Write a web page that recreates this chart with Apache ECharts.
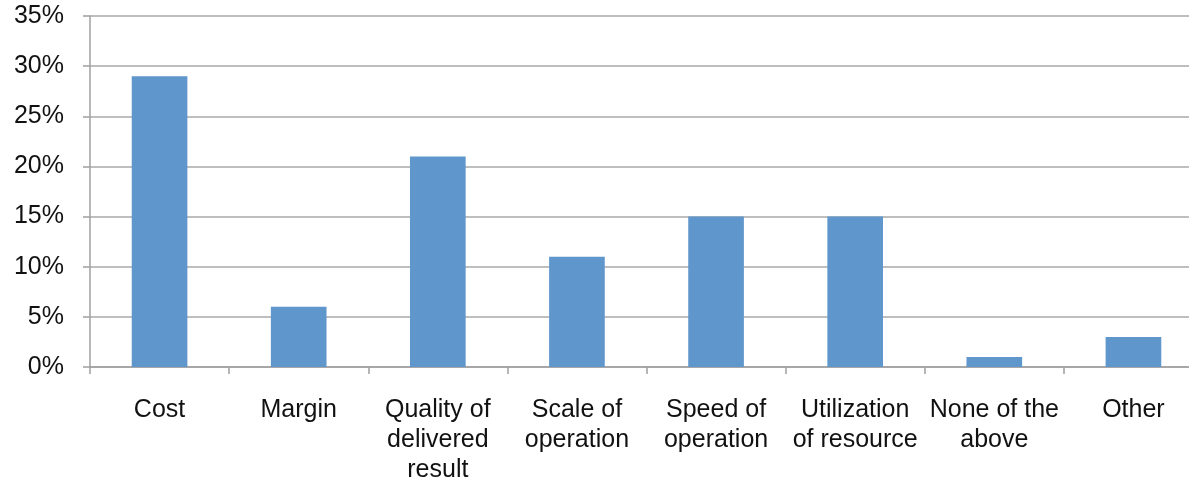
<!DOCTYPE html>
<html><head><meta charset="utf-8">
<script src="https://cdn.jsdelivr.net/npm/echarts@6/dist/echarts.min.js"></script>
<style>html,body{margin:0;padding:0;background:#fff}#c{width:1189px;height:481px}</style>
</head><body><div id="c"></div>
<script>
const categories = ["Cost","Margin","Quality of\ndelivered\nresult","Scale of\noperation","Speed of\noperation","Utilization\nof resource","None of the\nabove","Other"];
const values = [29, 6, 21, 11, 15, 15, 1, 3];
const yMin = 0, yMax = 35, yStep = 5;

const chart = echarts.init(document.getElementById('c'), null, {renderer:'canvas'});
chart.setOption({
  animation:false,
  backgroundColor:'#ffffff',
  grid:{left:90, right:-14, top:16, bottom:114, containLabel:false, outerBoundsMode:'none'},
  xAxis:{
    type:'category', data:categories,
    axisLine:{show:true, lineStyle:{color:'#a0a0a0', width:1.5}},
    axisTick:{show:true, length:7, lineStyle:{color:'#a0a0a0', width:1.5}},
    axisLabel:{interval:0, margin:28, color:'#111', fontSize:25, lineHeight:30, fontFamily:'Liberation Sans, Arial, sans-serif'},
    splitLine:{show:false}
  },
  yAxis:{
    type:'value', min:yMin, max:yMax, interval:yStep,
    axisLine:{show:true, lineStyle:{color:'#a0a0a0', width:1.5}},
    axisTick:{show:true, length:7, lineStyle:{color:'#a0a0a0', width:1.5}},
    axisLabel:{margin:26, padding:[4,0,0,0], color:'#111', fontSize:25, fontFamily:'Liberation Sans, Arial, sans-serif', formatter: v => v + '%'},
    splitLine:{show:true, lineStyle:{color:'#a8a8a8', width:1.5}}
  },
  series:[{
    type:'bar', data:values, barWidth:'40%',
    itemStyle:{color:'#5f96cc'}
  }]
});
</script></body></html>
